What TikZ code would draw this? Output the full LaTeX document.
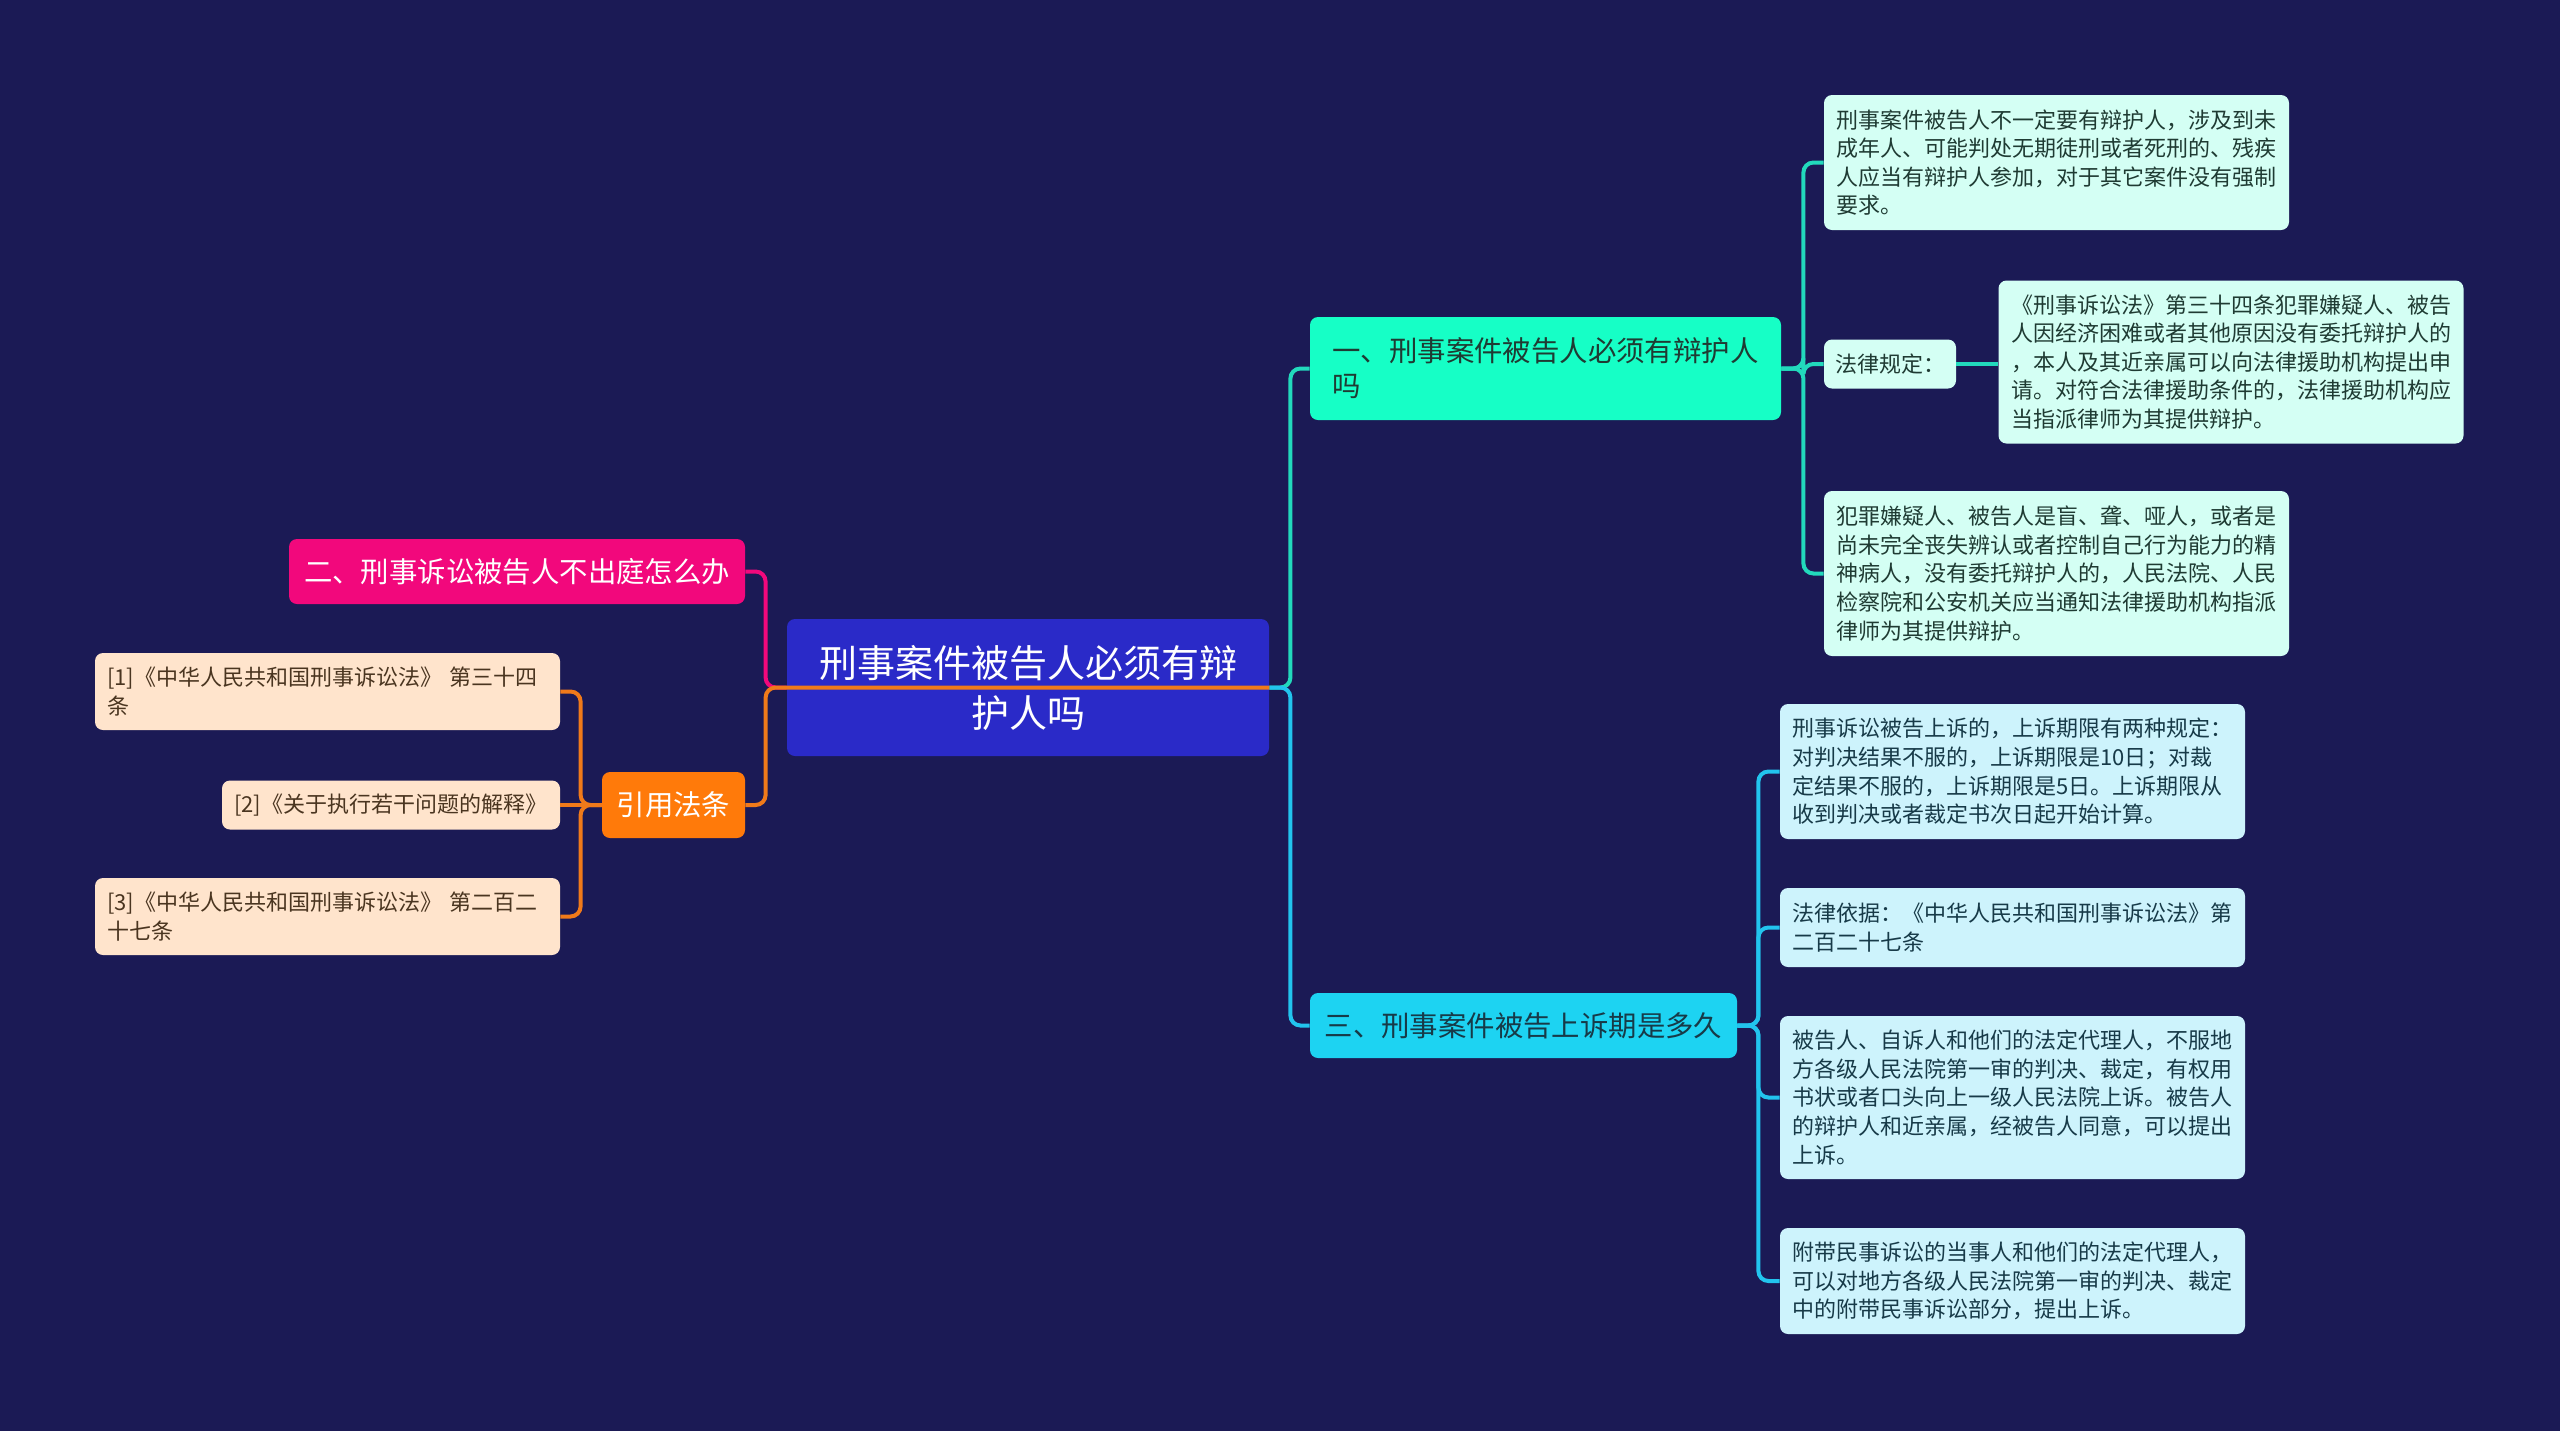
\documentclass[tikz,border=0pt]{standalone}
\usepackage{fontspec}
\setmainfont{Noto Sans CJK SC}
\usetikzlibrary{positioning}

\definecolor{bgnavy}{HTML}{1B1A55}
\definecolor{rootblue}{HTML}{2A2AC8}
\definecolor{aqua}{HTML}{16FFC6}
\definecolor{aqualine}{HTML}{22D9BC}
\definecolor{aqualeaf}{HTML}{D4FFF4}
\definecolor{aquatext}{HTML}{1F3B33}
\definecolor{sky}{HTML}{1DD3F2}
\definecolor{skyline}{HTML}{22C4EE}
\definecolor{skyleaf}{HTML}{CDF3FC}
\definecolor{skytext}{HTML}{173A48}
\definecolor{rose}{HTML}{F2087C}
\definecolor{amber}{HTML}{FF7A0A}
\definecolor{amberline}{HTML}{F07A1A}
\definecolor{peach}{HTML}{FFE4CC}
\definecolor{peachtext}{HTML}{4A3520}

\begin{document}
\begin{tikzpicture}[x=0.5pt,y=-0.5pt,
    box/.style={rounded corners=4pt,inner sep=0pt,align=left},
    root/.style={box,fill=rootblue,text=white,align=center,minimum width=241pt,minimum height=68.5pt,font=\fontsize{19pt}{25pt}\selectfont},
    topic/.style={box,minimum height=32.5pt,font=\fontsize{14.2pt}{17.5pt}\selectfont},
    leaf/.style={box,minimum width=232.5pt,font=\fontsize{11pt}{14.3pt}\selectfont},
    aleaf/.style={leaf,fill=aqualeaf,text=aquatext},
    sleaf/.style={leaf,fill=skyleaf,text=skytext},
    ref/.style={leaf,fill=peach,text=peachtext,inner xsep=6pt,text width=220.5pt},
    link/.style={line width=2pt,rounded corners=5pt},
    l1/.style={link,draw=aqualine},
    l2/.style={link,draw=rose},
    l3/.style={link,draw=skyline},
    lc/.style={link,draw=amberline}]
    \fill[bgnavy] (0,0) rectangle (2560,1431);
    \useasboundingbox (0,0) rectangle (2560,1431);

    % centre
    \node[root] (root) at (1028,687.5) {刑事案件被告人必须有辩\\护人吗};

    % right side
    \node[topic,fill=aqua,text=aquatext,minimum width=235.5pt,minimum height=51.5pt] (t1) at (1545.5,368.5)
        {一、刑事案件被告人必须有辩护人\\吗};
    \node[aleaf,minimum height=67.5pt] (a) at (2056.5,162.5)
        {刑事案件被告人不一定要有辩护人，涉及到未\\成年人、可能判处无期徒刑或者死刑的、残疾\\人应当有辩护人参加，对于其它案件没有强制\\要求。};
    \node[aleaf,minimum width=66pt,minimum height=24.5pt] (law) at (1890,364) {法律规定：};
    \node[aleaf,minimum height=81.5pt] (b) at (2231,362)
        {《刑事诉讼法》第三十四条犯罪嫌疑人、被告\\人因经济困难或者其他原因没有委托辩护人的\\，本人及其近亲属可以向法律援助机构提出申\\请。对符合法律援助条件的，法律援助机构应\\当指派律师为其提供辩护。};
    \node[aleaf,minimum height=82.5pt] (c) at (2056.5,573.5)
        {犯罪嫌疑人、被告人是盲、聋、哑人，或者是\\尚未完全丧失辨认或者控制自己行为能力的精\\神病人，没有委托辩护人的，人民法院、人民\\检察院和公安机关应当通知法律援助机构指派\\律师为其提供辩护。};

    \node[topic,fill=sky,text=skytext,minimum width=213.5pt] (t3) at (1523.5,1025.5)
        {三、刑事案件被告上诉期是多久};
    \node[sleaf,minimum height=67.5pt] (d) at (2012.5,771.5)
        {刑事诉讼被告上诉的，上诉期限有两种规定：\\对判决结果不服的，上诉期限是10日；对裁\\定结果不服的，上诉期限是5日。上诉期限从\\收到判决或者裁定书次日起开始计算。};
    \node[sleaf,minimum height=39.5pt] (e) at (2012.5,927.5)
        {法律依据：《中华人民共和国刑事诉讼法》第\\二百二十七条};
    \node[sleaf,minimum height=81.5pt] (f) at (2012.5,1097.5)
        {被告人、自诉人和他们的法定代理人，不服地\\方各级人民法院第一审的判决、裁定，有权用\\书状或者口头向上一级人民法院上诉。被告人\\的辩护人和近亲属，经被告人同意，可以提出\\上诉。};
    \node[sleaf,minimum height=53pt] (g) at (2012.5,1281)
        {附带民事诉讼的当事人和他们的法定代理人，\\可以对地方各级人民法院第一审的判决、裁定\\中的附带民事诉讼部分，提出上诉。};

    % left side
    \node[topic,fill=rose,text=white,minimum width=228pt] (t2) at (517,571.5)
        {二、刑事诉讼被告人不出庭怎么办};
    \node[topic,fill=amber,text=white,minimum width=71.5pt,minimum height=33pt] (cite) at (673.5,805) {引用法条};
    \node[ref,minimum height=38.5pt] (r1) at (327.5,691.5)
        {[1]《中华人民共和国刑事诉讼法》~第三十四\\条};
    \node[ref,minimum width=169pt,text width=157pt,minimum height=24.5pt] (r2) at (391,805)
        {[2]《关于执行若干问题的解释》};
    \node[ref,minimum height=38.5pt] (r3) at (327.5,916.5)
        {[3]《中华人民共和国刑事诉讼法》~第二百二\\十七条};

    % links
    \draw[l1] (root.east) -- ++(21,0) |- (t1.west);
    \draw[l3] (root.east) -- ++(21,0) |- (t3.west);
    \draw[l1] (t1.east) -- ++(22,0) |- (a.west);
    \draw[l1] (t1.east) -- ++(22,0) |- (c.west);
    \draw[l1] (t1.east) -- ++(22,0) |- (law.west);
    \draw[l1] (law.east) -- (law.east -| b.west);
    \draw[l3] (t3.east) -- ++(21,0) |- (d.west);
    \draw[l3] (t3.east) -- ++(21,0) |- (e.west);
    \draw[l3] (t3.east) -- ++(21,0) |- (f.west);
    \draw[l3] (t3.east) -- ++(21,0) |- (g.west);
    \draw[l2] (root.west) -- ++(-21,0) |- (t2.east);
    \draw[lc] (root.east) -- (root.west) -- ++(-21,0) |- (cite.east);
    \draw[lc] (cite.west) -- ++(-21,0) |- (r1.east);
    \draw[lc] (cite.west) -- (r2.east);
    \draw[lc] (cite.west) -- ++(-21,0) |- (r3.east);
\end{tikzpicture}
\end{document}
